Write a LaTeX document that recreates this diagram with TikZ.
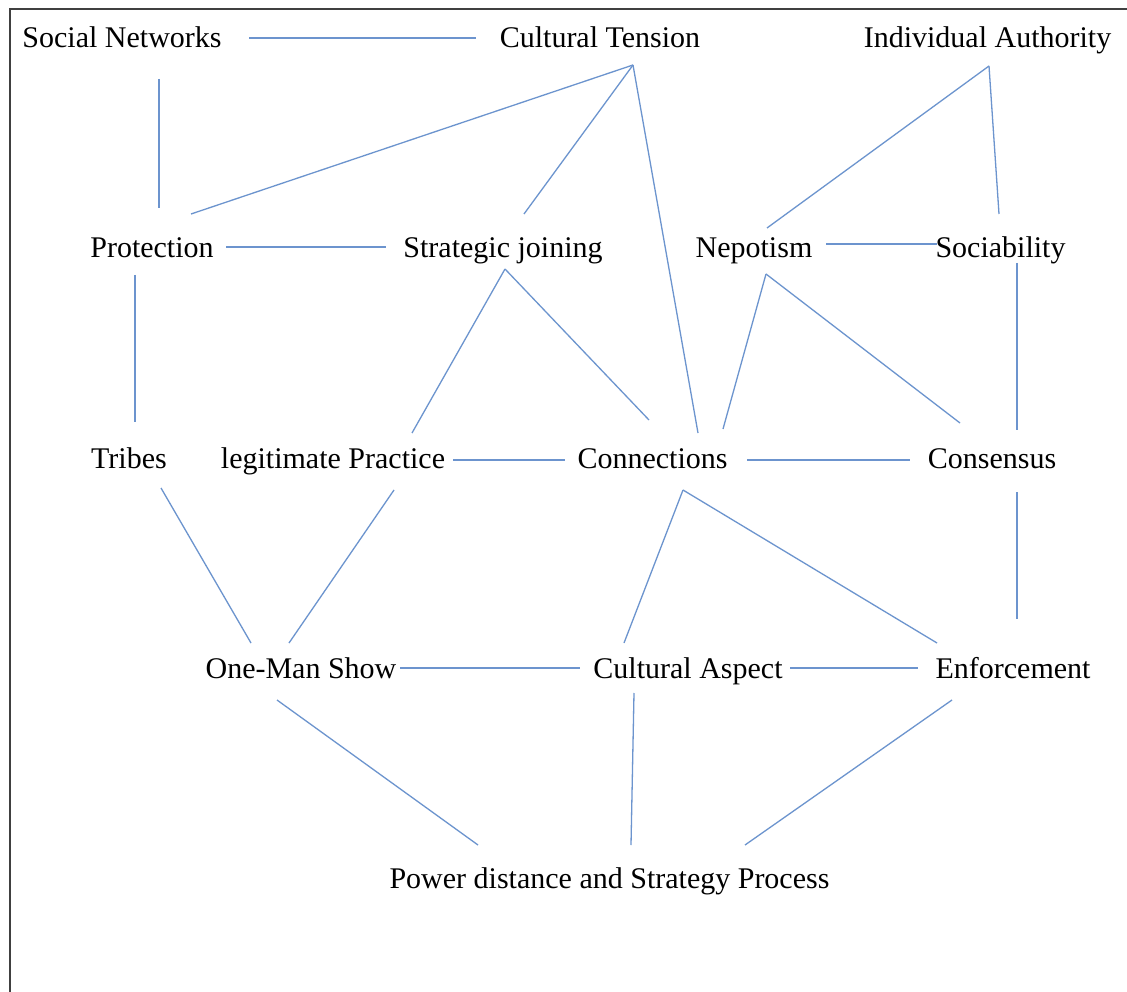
\documentclass[tikz,border=0pt]{standalone}
\usepackage{fontspec}
\setmainfont{Liberation Serif}
\begin{document}
\begin{tikzpicture}[x=1pt,y=-1pt,
  lbl/.style={anchor=base,inner sep=0pt,font=\fontsize{30}{36}\selectfont},
  link/.style={draw={rgb,255:red,108;green,148;blue,206},line width=1.3pt},
  frame/.style={draw={rgb,255:red,64;green,64;blue,64},line width=2pt}]
\useasboundingbox (0,0) rectangle (1127,992);
\fill[white] (0,0) rectangle (1127,992);
% open frame: top and left edges only
\draw[frame] (1127,9.5) -- (9.5,9.5) -- (9.5,992);

% concepts, placed on their baselines
\node[lbl] (sn) at (122,48)    {Social Networks};
\node[lbl] (ct) at (600,48)    {Cultural Tension};
\node[lbl] (ia) at (987.5,48)  {Individual Authority};
\node[lbl] (pr) at (152,258)   {Protection};
\node[lbl] (sj) at (503,258)   {Strategic joining};
\node[lbl] (ne) at (754,258)   {Nepotism};
\node[lbl] (so) at (1000.5,258){Sociability};
\node[lbl] (tr) at (129,468)   {Tribes};
\node[lbl] (lp) at (333,468)   {legitimate Practice};
\node[lbl] (co) at (652.5,468) {Connections};
\node[lbl] (cs) at (992,468)   {Consensus};
\node[lbl] (om) at (301,678)   {One-Man Show};
\node[lbl] (ca) at (688,678)   {Cultural Aspect};
\node[lbl] (en) at (1013,678)  {Enforcement};
\node[lbl] (pd) at (609.5,888) {Power distance and Strategy Process};

% row 1
\draw[link] ([shift={(127,-10)}]sn.base) -- ([shift={(-124,-10)}]ct.base);
\draw[link] ([shift={(37,31)}]sn.base) -- ([shift={(7,-50)}]pr.base);
\draw[link] ([shift={(33,17)}]ct.base) -- ([shift={(39,-44)}]pr.base);
\draw[link] ([shift={(33,17)}]ct.base) -- ([shift={(21,-44)}]sj.base);
\draw[link] ([shift={(33,17)}]ct.base) -- ([shift={(45.5,-35)}]co.base);
\draw[link] ([shift={(1.5,18)}]ia.base) -- ([shift={(13,-30)}]ne.base);
\draw[link] ([shift={(1.5,18)}]ia.base) -- ([shift={(-1.5,-44)}]so.base);

% row 2
\draw[link] ([shift={(74,-11)}]pr.base) -- ([shift={(-117,-11)}]sj.base);
\draw[link] ([shift={(72,-14)}]ne.base) -- ([shift={(-63.5,-14)}]so.base);
\draw[link] ([shift={(-17,17)}]pr.base) -- ([shift={(6,-46)}]tr.base);
\draw[link] ([shift={(2,11)}]sj.base) -- ([shift={(79,-35)}]lp.base);
\draw[link] ([shift={(2,11)}]sj.base) -- ([shift={(-3.5,-48)}]co.base);
\draw[link] ([shift={(12,16)}]ne.base) -- ([shift={(70.5,-39)}]co.base);
\draw[link] ([shift={(12,16)}]ne.base) -- ([shift={(-32,-45)}]cs.base);
\draw[link] ([shift={(16.5,5)}]so.base) -- ([shift={(25,-38)}]cs.base);

% row 3
\draw[link] ([shift={(120,-8)}]lp.base) -- ([shift={(-87.5,-8)}]co.base);
\draw[link] ([shift={(94.5,-8)}]co.base) -- ([shift={(-82,-8)}]cs.base);
\draw[link] ([shift={(32,20)}]tr.base) -- ([shift={(-50,-35)}]om.base);
\draw[link] ([shift={(61,22)}]lp.base) -- ([shift={(-12,-35)}]om.base);
\draw[link] ([shift={(30.5,22)}]co.base) -- ([shift={(-64,-35)}]ca.base);
\draw[link] ([shift={(30.5,22)}]co.base) -- ([shift={(-76,-35)}]en.base);
\draw[link] ([shift={(25,24)}]cs.base) -- ([shift={(4,-59)}]en.base);

% row 4
\draw[link] ([shift={(99,-10)}]om.base) -- ([shift={(-108,-10)}]ca.base);
\draw[link] ([shift={(102,-10)}]ca.base) -- ([shift={(-95,-10)}]en.base);
\draw[link] ([shift={(-24,22)}]om.base) -- ([shift={(-131.5,-43)}]pd.base);
\draw[link] ([shift={(-54,15)}]ca.base) -- ([shift={(21.5,-43)}]pd.base);
\draw[link] ([shift={(-61,22)}]en.base) -- ([shift={(135.5,-43)}]pd.base);
\end{tikzpicture}
\end{document}
